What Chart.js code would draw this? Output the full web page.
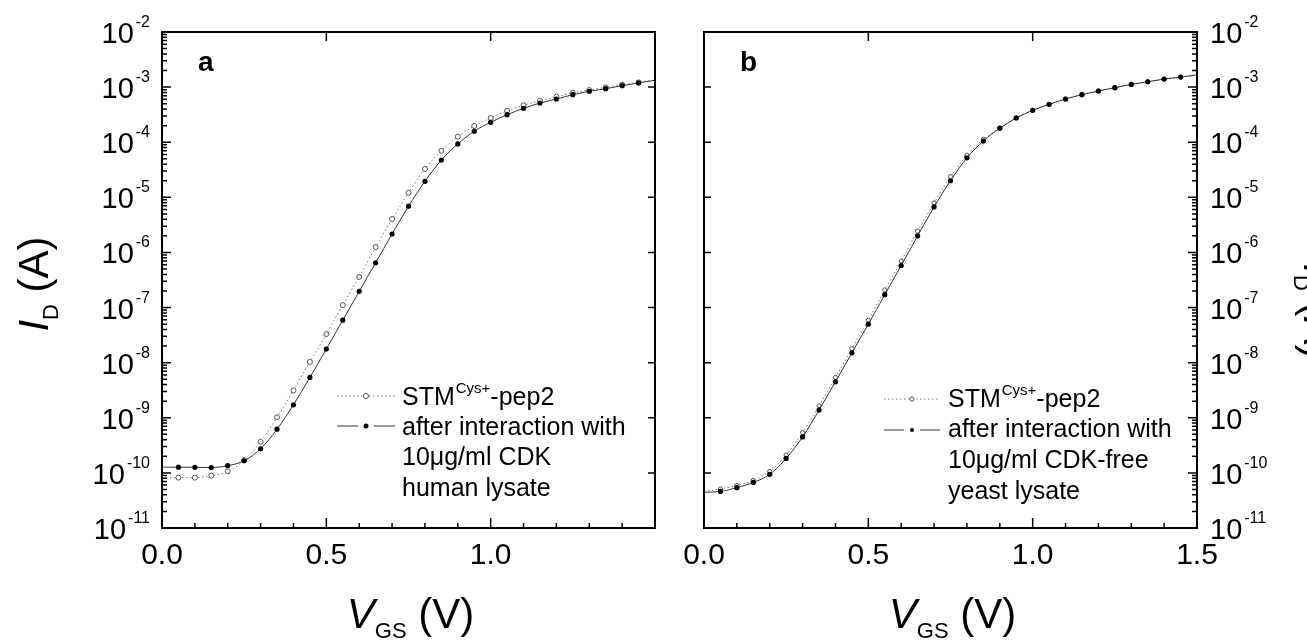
<!DOCTYPE html>
<html>
<head>
<meta charset="utf-8">
<script src="https://cdn.jsdelivr.net/npm/chart.js@4.4.0/dist/chart.umd.min.js"></script>
<style>
  html, body { margin: 0; padding: 0; background: #fff; }
  #wrap { position: relative; width: 1307px; height: 641px; overflow: hidden; }
  #chartA { position: absolute; left: 0; top: 0; }
  #chartB { position: absolute; left: 680px; top: 0; }
</style>
</head>
<body>
<div id="wrap">
  <canvas id="chartA" width="680" height="641"></canvas>
  <canvas id="chartB" width="627" height="641"></canvas>
</div>
<script>
// --- Data (V_GS in V, I_D in A) ---
const vgs = [0.00, 0.05, 0.10, 0.15, 0.20, 0.25, 0.30, 0.35, 0.40, 0.45, 0.50,
             0.55, 0.60, 0.65, 0.70, 0.75, 0.80, 0.85, 0.90, 0.95, 1.00,
             1.05, 1.10, 1.15, 1.20, 1.25, 1.30, 1.35, 1.40, 1.45, 1.50];

// panel a
const stmA = [8.1e-11, 8.2e-11, 8.2e-11, 8.9e-11, 1.06e-10, 1.7e-10, 3.67e-10, 1.02e-9, 3.14e-9, 1.03e-8, 3.3e-8,
              1.11e-7, 3.6e-7, 1.25e-6, 4.04e-6, 1.21e-5, 3.27e-5, 7.0e-5, 1.26e-4, 1.97e-4, 2.75e-4,
              3.73e-4, 4.68e-4, 5.66e-4, 6.7e-4, 7.9e-4, 8.85e-4, 9.9e-4, 1.11e-3, 1.22e-3, 1.35e-3];
const cdkA = [1.27e-10, 1.27e-10, 1.26e-10, 1.25e-10, 1.35e-10, 1.66e-10, 2.74e-10, 6.2e-10, 1.72e-9, 5.4e-9, 1.77e-8,
              5.9e-8, 1.97e-7, 6.5e-7, 2.16e-6, 6.9e-6, 1.95e-5, 4.75e-5, 9.3e-5, 1.58e-4, 2.3e-4,
              3.16e-4, 4.12e-4, 5.14e-4, 6.08e-4, 7.28e-4, 8.4e-4, 9.35e-4, 1.06e-3, 1.19e-3, 1.33e-3];

// panel b
const stmB = [4.6e-11, 5.1e-11, 5.9e-11, 7.3e-11, 1.06e-10, 2.1e-10, 5.4e-10, 1.65e-9, 5.4e-9, 1.79e-8, 5.9e-8,
              2.08e-7, 7.0e-7, 2.44e-6, 7.9e-6, 2.37e-5, 5.8e-5, 1.13e-4, 1.82e-4, 2.77e-4, 3.79e-4,
              4.87e-4, 6.08e-4, 7.28e-4, 8.5e-4, 9.75e-4, 1.12e-3, 1.25e-3, 1.40e-3, 1.52e-3, 1.66e-3];
const cdkB = [4.45e-11, 4.6e-11, 5.4e-11, 6.7e-11, 9.4e-11, 1.83e-10, 4.5e-10, 1.38e-9, 4.5e-9, 1.51e-8, 5.0e-8,
              1.71e-7, 5.8e-7, 2.0e-6, 6.7e-6, 2.0e-5, 5.2e-5, 1.05e-4, 1.79e-4, 2.75e-4, 3.79e-4,
              4.87e-4, 6.08e-4, 7.28e-4, 8.5e-4, 9.75e-4, 1.12e-3, 1.25e-3, 1.40e-3, 1.52e-3, 1.66e-3];

// --- Axis ticks and texts ---
const decades = [-2, -3, -4, -5, -6, -7, -8, -9, -10, -11];
const xTickValues = [0, 0.5, 1.0, 1.5];
const xTickLabelsA = ['0.0', '0.5', '1.0'];
const xTickLabelsB = ['0.0', '0.5', '1.0', '1.5'];
const legendRestA = ['after interaction with', '10\u03bcg/ml CDK', 'human lysate'];
const legendRestB = ['after interaction with', '10\u03bcg/ml CDK-free', 'yeast lysate'];

const FONT = '"Liberation Sans", Arial, sans-serif';

function toPoints(ys) {
    return vgs.map((v, i) => ({ x: v, y: ys[i] }));
}

// no marker on the two curve end points (0 V and 1.5 V)
function markerSize(r) {
    return ctx => (ctx.dataIndex === 0 || ctx.dataIndex === vgs.length - 1) ? 0 : r;
}

// draws "main" + subscript + rest, centered on the origin, baseline at y=0
function drawTitle(ctx, cx, cy, rot, main, sub, rest) {
    ctx.save();
    ctx.translate(cx, cy);
    ctx.rotate(rot);
    ctx.textBaseline = 'alphabetic';
    ctx.textAlign = 'left';
    ctx.font = 'italic 42px ' + FONT;
    const w1 = ctx.measureText(main).width;
    ctx.font = '22px ' + FONT;
    const w2 = ctx.measureText(sub).width;
    ctx.font = '42px ' + FONT;
    const w3 = ctx.measureText(rest).width;
    let x = -(w1 + w2 + w3) / 2;
    ctx.fillStyle = '#000';
    ctx.font = 'italic 42px ' + FONT;
    ctx.fillText(main, x, 0);
    x += w1;
    ctx.font = '22px ' + FONT;
    ctx.fillText(sub, x, 10);
    x += w2;
    ctx.font = '42px ' + FONT;
    ctx.fillText(rest, x, 0);
    ctx.restore();
}

const framePlugin = {
    id: 'frame',
    afterDraw(chart, args, o) {
        const ctx = chart.ctx;
        const a = chart.chartArea;
        const xs = chart.scales.x, ys = chart.scales.y;
        ctx.save();
        ctx.strokeStyle = '#000';
        ctx.fillStyle = '#000';

        // frame
        ctx.lineWidth = 2;
        ctx.strokeRect(a.left, a.top, a.right - a.left, a.bottom - a.top);

        // y ticks
        ctx.lineWidth = 1.5;
        ctx.beginPath();
        decades.forEach(e => {
            const y = ys.getPixelForValue(Math.pow(10, e));
            // labelled side: major + minor
            const sx = o.side === 'left' ? a.left : a.right;
            const dir = o.side === 'left' ? 1 : -1;
            const ox = o.side === 'left' ? a.right : a.left;
            ctx.moveTo(sx, y); ctx.lineTo(sx + dir * 9, y);
            ctx.moveTo(ox, y); ctx.lineTo(ox - dir * 7, y);
            if (e > -11) {
                for (let m = 2; m <= 9; m++) {
                    const ym = ys.getPixelForValue(m * Math.pow(10, e - 1));
                    ctx.moveTo(sx, ym); ctx.lineTo(sx + dir * 5, ym);
                }
            }
        });
        // x ticks
        for (let i = 0; i <= 15; i++) {
            const x = xs.getPixelForValue(i / 10);
            const major = i % 5 === 0;
            ctx.moveTo(x, a.bottom); ctx.lineTo(x, a.bottom - (major ? 10 : 5));
            if (major) { ctx.moveTo(x, a.top); ctx.lineTo(x, a.top + 9); }
        }
        ctx.stroke();

        // y tick labels 10^e
        ctx.textBaseline = 'alphabetic';
        decades.forEach(e => {
            const y = ys.getPixelForValue(Math.pow(10, e));
            const sup = String(e);
            ctx.font = '16px ' + FONT;
            const ws = ctx.measureText(sup).width;
            ctx.font = '29px ' + FONT;
            const wb = ctx.measureText('10').width;
            let x0;
            if (o.side === 'left') x0 = a.left - 12 - ws - 2 - wb;
            else x0 = a.right + 13;
            ctx.textAlign = 'left';
            ctx.font = '29px ' + FONT;
            ctx.fillText('10', x0, y + 11);
            ctx.font = '16px ' + FONT;
            ctx.fillText(sup, x0 + wb + 2, y - 5);
        });

        // x tick labels
        ctx.font = '30px ' + FONT;
        ctx.textAlign = 'center';
        o.xLabels.forEach((t, i) => {
            ctx.fillText(t, xs.getPixelForValue(xTickValues[i]), a.bottom + 36);
        });

        // panel letter
        ctx.font = 'bold 28px ' + FONT;
        ctx.textAlign = 'left';
        ctx.fillText(o.letter, a.left + o.letterDx, 71);

        // legend
        const L = o.legend;
        ctx.lineWidth = 1;
        ctx.strokeStyle = '#777';
        ctx.setLineDash([1.5, 2.5]);
        ctx.beginPath();
        ctx.moveTo(L.x0, L.y1); ctx.lineTo(L.x1, L.y1);
        ctx.stroke();
        ctx.setLineDash([]);
        ctx.fillStyle = '#fff';
        ctx.strokeStyle = '#555';
        ctx.beginPath();
        ctx.arc(L.xm, L.y1, L.r, 0, Math.PI * 2);
        ctx.fill(); ctx.stroke();
        ctx.strokeStyle = '#333';
        ctx.beginPath();
        ctx.moveTo(L.x0, L.y2); ctx.lineTo(L.xm - 8, L.y2);
        ctx.moveTo(L.xm + 8, L.y2); ctx.lineTo(L.x1, L.y2);
        ctx.stroke();
        ctx.fillStyle = '#000';
        ctx.beginPath();
        ctx.arc(L.xm, L.y2, L.r, 0, Math.PI * 2);
        ctx.fill();

        ctx.textAlign = 'left';
        ctx.font = '25px ' + FONT;
        let tx = L.tx;
        ctx.fillText('STM', tx, L.b[0]);
        tx += ctx.measureText('STM').width + 1;
        ctx.font = '15px ' + FONT;
        ctx.fillText('Cys+', tx, L.b[0] - 12);
        tx += ctx.measureText('Cys+').width;
        ctx.font = '25px ' + FONT;
        ctx.fillText('-pep2', tx, L.b[0]);
        o.legendRest.forEach((t, i) => ctx.fillText(t, L.tx, L.b[i + 1]));

        // axis titles
        drawTitle(ctx, (a.left + a.right) / 2 + 2, 628, 0, 'V', 'GS', ' (V)');
        drawTitle(ctx, o.yTitle.x, o.yTitle.y, o.yTitle.rot, 'I', 'D', ' (A)');

        ctx.restore();
    }
};

function makeChart(id, stm, cdk, r1, r2, padding, frameOpts) {
    return new Chart(document.getElementById(id).getContext('2d'), {
        type: 'scatter',
        data: {
            datasets: [
                {
                    label: 'STM-pep2',
                    data: toPoints(stm),
                    order: 2,
                    showLine: true,
                    borderColor: '#777',
                    borderWidth: 1,
                    borderDash: [1.5, 2.5],
                    cubicInterpolationMode: 'monotone',
                    pointRadius: markerSize(r1),
                    pointBackgroundColor: '#fff',
                    pointBorderColor: '#555',
                    pointBorderWidth: 1
                },
                {
                    // drawn on top of the open circles
                    label: 'after interaction',
                    data: toPoints(cdk),
                    order: 1,
                    showLine: true,
                    borderColor: '#333',
                    borderWidth: 1,
                    cubicInterpolationMode: 'monotone',
                    pointRadius: markerSize(r2),
                    pointBackgroundColor: '#000',
                    pointBorderColor: '#000',
                    pointBorderWidth: 0
                }
            ]
        },
        options: {
            responsive: false,
            animation: false,
            layout: { padding: padding },
            scales: {
                x: { type: 'linear', min: 0, max: 1.5, display: false },
                y: { type: 'logarithmic', min: 1e-11, max: 1e-2, display: false }
            },
            plugins: {
                legend: { display: false },
                tooltip: { enabled: false },
                frame: frameOpts
            }
        },
        plugins: [framePlugin]
    });
}

makeChart('chartA', stmA, cdkA, 2.5, 2.6,
    { left: 162, right: 25, top: 32, bottom: 113 },
    {
        side: 'left', xLabels: xTickLabelsA, letter: 'a', letterDx: 36,
        legend: { x0: 337, x1: 395, xm: 366, r: 2.5, y1: 396, y2: 426, tx: 402, b: [405, 435, 465, 496] },
        legendRest: legendRestA,
        yTitle: { x: 48, y: 284, rot: -Math.PI / 2 }
    });

makeChart('chartB', stmB, cdkB, 2.1, 2.6,
    { left: 24, right: 110, top: 32, bottom: 113 },
    {
        side: 'right', xLabels: xTickLabelsB, letter: 'b', letterDx: 36,
        legend: { x0: 204, x1: 260, xm: 232, r: 2.1, y1: 399, y2: 430, tx: 268, b: [407, 437, 468, 499] },
        legendRest: legendRestB,
        yTitle: { x: 624, y: 311, rot: Math.PI / 2 }
    });
</script>
</body>
</html>
